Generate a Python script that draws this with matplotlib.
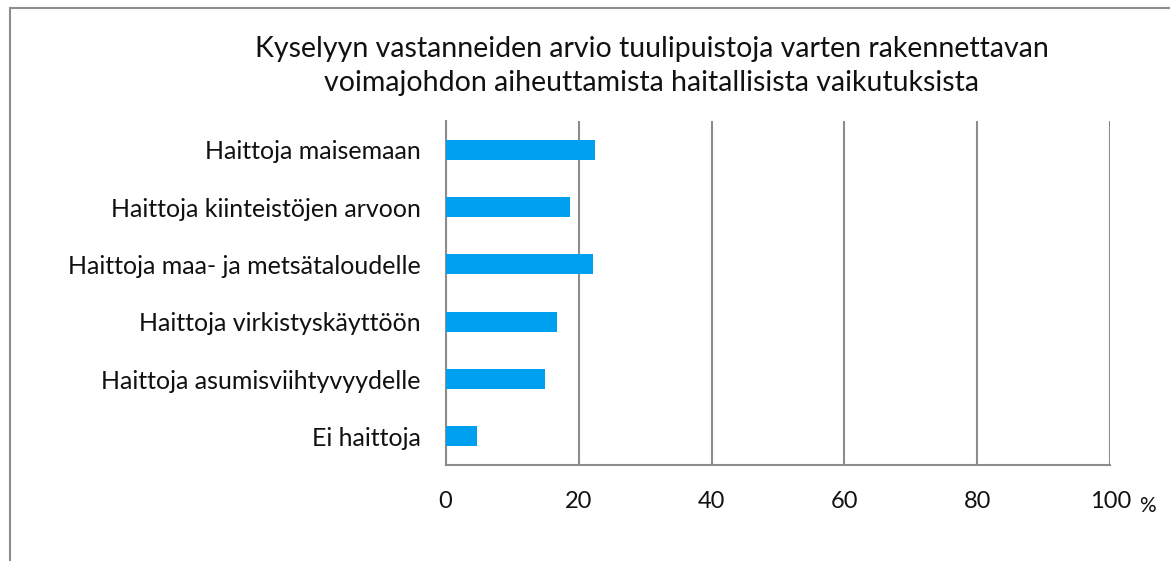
import numpy as np
import matplotlib.pyplot as plt
from matplotlib.patches import Rectangle

plt.rcParams['font.family'] = ['Lato', 'DejaVu Sans']

# data (top to bottom as shown)
categories = ['Haittoja maisemaan', 'Haittoja kiinteistöjen arvoon',
              'Haittoja maa- ja metsätaloudelle', 'Haittoja virkistyskäyttöön',
              'Haittoja asumisviihtyvyydelle', 'Ei haittoja']
values = [22.5, 18.7, 22.2, 16.8, 14.9, 4.7]
xticks = [0, 20, 40, 60, 80, 100]
title = ('Kyselyyn vastanneiden arvio tuulipuistoja varten rakennettavan\n'
         'voimajohdon aiheuttamista haitallisista vaikutuksista')

fig = plt.figure(figsize=(11.7, 5.61), dpi=100)
ax = fig.add_axes([0.3808, 0.1711, 0.5683, 0.6132])

y = np.arange(len(categories))[::-1]
ax.barh(y, values, height=0.35, color='#00a0f0', zorder=3)

ax.set_xlim(0, 100)
ax.set_ylim(-0.5, len(categories) - 0.5)
ax.set_xticks(xticks)
ax.set_xticklabels([str(t) for t in xticks])
ax.set_yticks(y)
ax.set_yticklabels(categories)
ax.tick_params(axis='both', length=0, colors='#111111')
ax.tick_params(axis='x', pad=19, labelsize=17)
ax.tick_params(axis='y', pad=18, labelsize=18)
ax.grid(axis='x', color='#8c8c8c', linewidth=1.5, zorder=0)
for s in ['top', 'right']:
    ax.spines[s].set_visible(False)
for s in ['left', 'bottom']:
    ax.spines[s].set_color('#8c8c8c')
    ax.spines[s].set_linewidth(1.5)

# the % sign after the last tick
ax.text(1.055, -0.118, '%', transform=ax.transAxes, fontsize=15,
        ha='center', va='center', color='#111111')

fig.text(0.557, 0.882, title, ha='center', va='center', fontsize=20.5,
         linespacing=1.4, color='#111111')

# outer chart border
fig.patches.append(Rectangle((10 / 1170, -0.1), 1.2, 1 - 8 / 561 + 0.1,
                             transform=fig.transFigure, fill=False,
                             edgecolor='#8c8c8c', linewidth=1.5))

fig.savefig('out.png', dpi=100)
